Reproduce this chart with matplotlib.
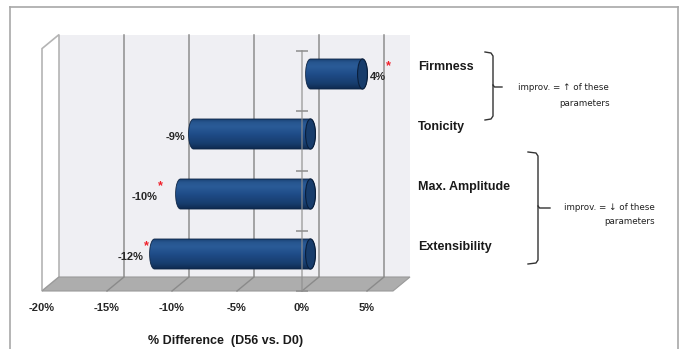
import numpy as np
import matplotlib
matplotlib.use('Agg')
import matplotlib.pyplot as plt
from matplotlib import transforms
from matplotlib.patches import Polygon, Ellipse
from matplotlib.lines import Line2D
from matplotlib.colors import LinearSegmentedColormap

# skin parameters, % difference D56 vs D0 (top to bottom)
params = ['Firmness', 'Tonicity', 'Max. Amplitude', 'Extensibility']
diff_pct = [4, -9, -10, -12]
significant = [True, False, True, True]
x_ticks = [-20, -15, -10, -5, 0, 5]
x_max = 7

# value label nudges in pixels (Excel places them a bit unevenly)
label_nudge = [(16, 4), (0, 4), (-14, 4), (-2, 4)]

W, H = 682, 349
DX, DY = 17, 14          # 3D depth offset in pixels
BAR_HALF = 0.25          # half bar height (category units)
CAP = 0.38               # cylinder end radius along x (% units)

plt.rcParams['font.family'] = ['Liberation Sans', 'DejaVu Sans']

fig = plt.figure(figsize=(W / 100, H / 100), dpi=100)
ax = fig.add_axes([42 / W, (H - 291) / H, 351 / W, 240 / H])
ax.set_xlim(-20, x_max)
ax.set_ylim(0, len(params))
ax.set_facecolor('none')
for s in ax.spines.values():
    s.set_visible(False)


def depth(f):
    return ax.transData + transforms.ScaledTranslation(
        f * DX / 100, f * DY / 100, fig.dpi_scale_trans)


def px(pt, f):
    return depth(f).transform(pt)


ident = transforms.IdentityTransform()
n = len(params)
ypos = np.arange(n)[::-1] + 0.5

# back wall
ax.add_patch(Polygon([(-20, 0), (x_max, 0), (x_max, n + 0.04), (-20, n + 0.04)],
                     transform=depth(1), fc='#efeff3', ec='none',
                     clip_on=False, zorder=0))
for x in x_ticks[1:]:
    ax.plot([x, x], [0, n + 0.04], transform=depth(1), color='#8e8e8e',
            lw=1.1, clip_on=False, zorder=1)

# left wall
ax.add_patch(Polygon([px((-20, 0), 0), px((-20, n + 0.04), 0),
                      px((-20, n + 0.04), 1), px((-20, 0), 1)],
                     transform=ident, fc='white', ec='#b4b4b4', lw=1.2,
                     clip_on=False, zorder=1))

# floor
ax.add_patch(Polygon([px((-20, 0), 0), px((x_max, 0), 0),
                      px((x_max, 0), 1), px((-20, 0), 1)],
                     transform=ident, fc='#adadad', ec='#9a9a9a', lw=0.8,
                     clip_on=False, zorder=2))
for x in x_ticks[1:]:
    a, b = px((x, 0), 0), px((x, 0), 1)
    ax.add_line(Line2D([a[0], b[0]], [a[1], b[1]], transform=ident,
                       color='#8a8a8a', lw=1.0, clip_on=False, zorder=3))

# cylinder bars at mid depth
bar_cmap = LinearSegmentedColormap.from_list('cyl', [
    (0.0, '#0f2a50'), (0.18, '#173d6e'), (0.5, '#1f4c88'),
    (0.75, '#2a5b98'), (0.9, '#27568f'), (1.0, '#1a4275')])
grad = np.linspace(0, 1, 64).reshape(-1, 1)
tr_mid = depth(0.5)
t = np.linspace(0, np.pi, 40)
for v, c in zip(diff_pct, ypos):
    x0, x1 = min(0, v), max(0, v)
    right = np.column_stack([x1 + CAP * np.sin(t), c + BAR_HALF * np.cos(t)])
    left = np.column_stack([x0 - CAP * np.sin(t), c - BAR_HALF * np.cos(t)])
    body = Polygon(np.vstack([right, left]), closed=True, transform=tr_mid,
                   fc='none', ec='#0c2444', lw=0.6, zorder=5)
    ax.add_patch(body)
    im = ax.imshow(grad, cmap=bar_cmap, origin='lower', aspect='auto',
                   interpolation='bicubic', transform=tr_mid,
                   extent=(x0 - CAP, x1 + CAP, c - BAR_HALF, c + BAR_HALF),
                   zorder=4)
    im.set_clip_path(body)
    ax.add_patch(Ellipse((x1, c), 2 * CAP, 2 * BAR_HALF, transform=tr_mid,
                         fc='#173c6b', ec='#0a1f3c', lw=0.8, zorder=6))

# value axis line at 0 with category tick marks, seen through the bars
ax.plot([0, 0], [0, n], color='#8e8e8e', lw=1.1, alpha=0.75, zorder=6.5,
        clip_on=False)
ax.plot(np.zeros(n + 1), np.arange(n + 1), ls='none', marker='_',
        ms=8, mew=1.1, color='#8e8e8e', zorder=3, clip_on=False)

ax.set_xlim(-20, x_max)
ax.set_ylim(0, n)

# value labels and significance asterisks
for v, c, sig, (nx, ny) in zip(diff_pct, ypos, significant, label_nudge):
    tr = ax.transData + transforms.ScaledTranslation(nx / 100, ny / 100,
                                                      fig.dpi_scale_trans)
    lbl = ax.text(v, c, f'{v}%', transform=tr, ha='left' if v > 0 else 'right',
                  va='center', fontsize=8, fontweight='bold', color='#262626',
                  zorder=7)
    if sig:
        ax.annotate('*', xy=(1, 0.5), xycoords=lbl, xytext=(1.5, 8),
                    textcoords='offset points', ha='center', va='center',
                    fontsize=9, fontweight='bold', color='#f0202a', zorder=7)

# category names on the right, at the back plane
cat_tr = transforms.blended_transform_factory(ax.transAxes, ax.transData) + \
    transforms.ScaledTranslation((DX + 8) / 100, DY / 100, fig.dpi_scale_trans)
for name, c in zip(params, ypos):
    ax.text(1, c, name, transform=cat_tr, ha='left', va='center',
            fontsize=9, fontweight='bold', color='#1a1a1a')

ax.set_yticks([])
ax.set_xticks(x_ticks)
ax.set_xticklabels([f'{x}%' for x in x_ticks], fontsize=8, fontweight='bold',
                   color='#262626')
ax.tick_params(axis='x', length=0, pad=8.5)
ax.set_xlabel('% Difference  (D56 vs. D0)', fontsize=9, fontweight='bold',
              color='#1a1a1a')
ax.xaxis.set_label_coords(0.524, -0.183)


# braces and notes
def fpt(x, y):
    return x / W, 1 - y / H


def brace(x, y0, y1, ym, hook, tip):
    xs = [x - hook, x - 2, x, x, x - 2, x - hook]
    ys = [y0, y0 + 1, y0 + 4, y1 - 4, y1 - 1, y1]
    pts = [fpt(a, b) for a, b in zip(xs, ys)]
    fig.add_artist(Line2D([p[0] for p in pts], [p[1] for p in pts],
                          color='#333333', lw=1.0))
    xs = [x, x + 1.5, x + tip]
    ys = [ym - 2, ym, ym]
    pts = [fpt(a, b) for a, b in zip(xs, ys)]
    fig.add_artist(Line2D([p[0] for p in pts], [p[1] for p in pts],
                          color='#333333', lw=1.0))


note_font = dict(family=['Liberation Sans Narrow', 'DejaVu Sans'],
                 fontsize=6.3, color='#222222')
brace(493, 52, 120, 87, 8, 9)
fig.text(*fpt(609, 87), 'improv. = \u2191 of these', ha='right', va='center',
         **note_font)
fig.text(*fpt(610, 103), 'parameters', ha='right', va='center', **note_font)
brace(538, 152, 264, 208, 10, 12)
fig.text(*fpt(655, 207), 'improv. = \u2193 of these', ha='right', va='center',
         **note_font)
fig.text(*fpt(655, 222), 'parameters', ha='right', va='center', **note_font)

# outer frame
for xs, ys in [([10, 10], [7, H]), ([10, 678], [7, 7]), ([678, 678], [7, H])]:
    a, b = fpt(xs[0], ys[0]), fpt(xs[1], ys[1])
    fig.add_artist(Line2D([a[0], b[0]], [a[1], b[1]], color='#a8a8a8', lw=1.2))

fig.savefig('out.png', dpi=100)
